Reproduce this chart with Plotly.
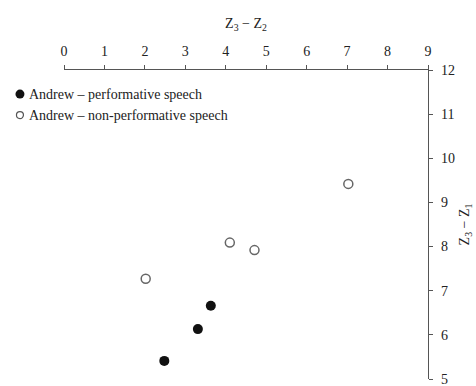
import plotly.graph_objects as go

# Andrew: formant-distance measurements
perf_x = [2.48, 3.31, 3.63]
perf_y = [5.41, 6.13, 6.66]
nonperf_x = [2.02, 4.10, 4.71, 7.03]
nonperf_y = [7.27, 8.09, 7.92, 9.42]

x_ticks = list(range(0, 10))
y_ticks = list(range(5, 13))

series_names = ["Andrew – performative speech", "Andrew – non-performative speech"]

FONT = "Liberation Serif, Times New Roman, serif"
TEXT_COL = "#222222"
AXIS_COL = "#555555"

fig = go.Figure()
fig.add_trace(go.Scatter(
    x=perf_x, y=perf_y, mode="markers", name=series_names[0],
    marker=dict(size=10, color="#111111", line=dict(width=0)),
    showlegend=False,
))
fig.add_trace(go.Scatter(
    x=nonperf_x, y=nonperf_y, mode="markers", name=series_names[1],
    marker=dict(size=9, color="white", line=dict(width=1.5, color="#666666")),
    showlegend=False,
))

# Hand-placed key in the upper-left corner
key_rows = [(0.922, dict(fillcolor="#111111", line=dict(width=0)), 4.5),
            (0.854, dict(fillcolor="white", line=dict(width=1.2, color="#555555")), 3.5)]
for (ky, style, r), label in zip(key_rows, series_names):
    fig.add_shape(type="circle", xref="paper", yref="paper",
                  xsizemode="pixel", ysizemode="pixel",
                  xanchor=-0.121, yanchor=ky, opacity=1,
                  x0=-r, x1=r, y0=-r, y1=r, **style)
    fig.add_annotation(xref="paper", yref="paper", x=-0.101, y=ky,
                       xanchor="left", yanchor="middle", showarrow=False,
                       text=label, font=dict(family=FONT, size=14, color=TEXT_COL))

axis_common = dict(
    automargin=False,
    showgrid=False, zeroline=False, showline=True, linecolor=AXIS_COL, linewidth=1.3,
    ticks="outside", ticklen=4, tickwidth=1.2, tickcolor=AXIS_COL,
    tickfont=dict(family=FONT, size=14, color=TEXT_COL),
    ticklabeloverflow="allow",
)

fig.update_layout(
    template="simple_white",
    width=476, height=386,
    margin=dict(l=64, r=48, t=70, b=7),
    paper_bgcolor="white", plot_bgcolor="white",
    font=dict(family=FONT, size=14, color=TEXT_COL),
    xaxis=dict(
        side="top", range=[0, 9], tickvals=x_ticks, ticktext=[str(v) for v in x_ticks],
        ticklabelstandoff=3,
        title=dict(text="Z<sub>3</sub> − Z<sub>2</sub>", font=dict(family=FONT, size=14, color=TEXT_COL), standoff=12),
        **axis_common,
    ),
    yaxis=dict(
        side="right", range=[5, 12], tickvals=y_ticks, ticktext=[str(v) for v in y_ticks],
        ticklabelstandoff=5,
        title=dict(text="Z<sub>3</sub> − Z<sub>1</sub>", font=dict(family=FONT, size=14, color=TEXT_COL), standoff=5),
        **axis_common,
    ),
)

fig.write_html("out.html")
